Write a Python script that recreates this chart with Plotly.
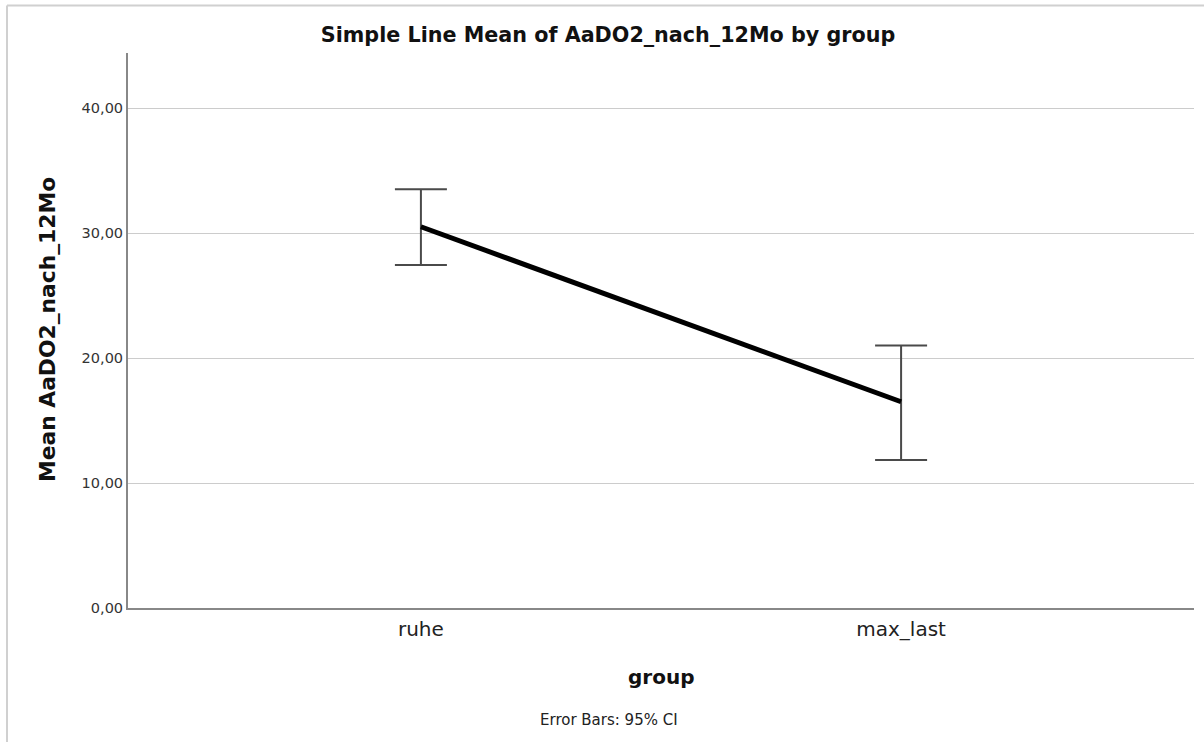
import plotly.graph_objects as go

groups = ["ruhe", "max_last"]
means = [30.5, 16.5]
ci_upper = [33.5, 21.0]
ci_lower = [27.45, 11.85]
y_ticks = [0, 10, 20, 30, 40]

err_plus = [u - m for u, m in zip(ci_upper, means)]
err_minus = [m - l for m, l in zip(means, ci_lower)]

FONT = "DejaVu Sans"

fig = go.Figure()
fig.add_trace(go.Scatter(
    x=groups, y=means, mode="lines",
    line=dict(color="black", width=5),
    error_y=dict(type="data", symmetric=False, array=err_plus, arrayminus=err_minus,
                 color="#4a4a4a", thickness=2, width=26),
    showlegend=False, hoverinfo="skip",
))

fig.update_layout(
    width=1204, height=742,
    margin=dict(l=128, r=10, t=53, b=134),
    paper_bgcolor="white", plot_bgcolor="white",
    separators=",.",
    font=dict(family=FONT, color="#222222"),
    title=dict(text="<b>Simple Line Mean of AaDO2_nach_12Mo by group</b>",
               x=608/1204, xref="container", xanchor="center",
               y=1-35/742, yref="container", yanchor="middle",
               font=dict(size=20.7, family=FONT, color="#111111")),
    xaxis=dict(type="category", range=[-0.61, 1.61], showgrid=False,
               showline=True, linecolor="#888888", linewidth=2, ticks="",
               ticklabelstandoff=2,
               tickfont=dict(size=20, color="#222222"), zeroline=False),
    yaxis=dict(range=[0, 44.4], tickvals=y_ticks, tickformat=".2f",
               showgrid=True, gridcolor="#cccccc", gridwidth=1,
               showline=True, linecolor="#888888", linewidth=2, ticks="",
               tickfont=dict(size=14.5, color="#333333"), zeroline=False),
    annotations=[
        dict(text="<b>Mean AaDO2_nach_12Mo</b>", textangle=-90, xref="paper", yref="paper",
             x=(47-128)/1066, y=(608-330)/555, xanchor="center", yanchor="middle",
             showarrow=False, font=dict(size=21.8, color="#111111")),
        dict(text="<b>group</b>", xref="paper", yref="paper",
             x=0.5, y=(608-677)/555, xanchor="center", yanchor="middle",
             showarrow=False, font=dict(size=20, color="#111111")),
        dict(text="Error Bars: 95% CI", xref="paper", yref="paper",
             x=(609-128)/1066, y=(608-720)/555, xanchor="center", yanchor="middle",
             showarrow=False, font=dict(size=15, color="#222222")),
    ],
    shapes=[
        dict(type="line", xref="paper", yref="paper",
             x0=(7-128)/1066, x1=(1204-128)/1066, y0=(608-5.5)/555, y1=(608-5.5)/555,
             line=dict(color="#d0d0d0", width=2)),
        dict(type="line", xref="paper", yref="paper",
             x0=(7-128)/1066, x1=(7-128)/1066, y0=(608-5.5)/555, y1=(608-742)/555,
             line=dict(color="#d0d0d0", width=2)),
    ],
)

fig.write_html("out.html")
